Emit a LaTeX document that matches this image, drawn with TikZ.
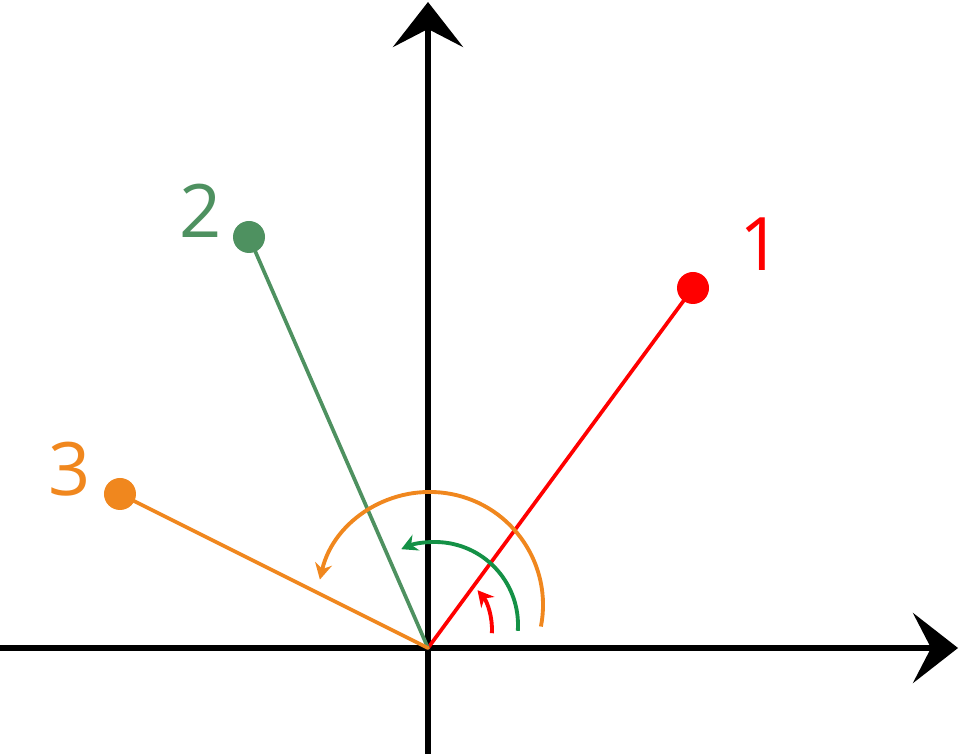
\documentclass[tikz,border=0pt]{standalone}
\usepackage{fontspec}
\setmainfont{Open Sans}
\usepackage{tkz-euclide}
\usepackage{tikz}
\usetikzlibrary{arrows.meta}

\definecolor{cred}{RGB}{255,0,0}
\definecolor{cgreen}{RGB}{78,145,96}
\definecolor{carc}{RGB}{20,145,70}
\definecolor{corange}{RGB}{240,135,30}

\tikzset{
  axis/.style={line width=1.7pt, -{Stealth[length=4.5mm, width=7mm, inset=1.8mm]}},
  ray/.style={line width=1.05pt},
  turn/.style={line width=1.1pt, -{Stealth[length=1.6mm, width=1.7mm]}},
  num/.style={font=\fontsize{21}{24}\selectfont}
}

\begin{document}
\begin{tikzpicture}
    \useasboundingbox (-4.28,-1.06) rectangle (5.31,6.48);
    \tkzDefPoints{0/0/O,2.65/3.60/A,-1.79/4.11/B,-3.08/1.54/C}
    \tkzDefPoints{-4.28/0/XL,5.30/0/XR,0/-1.06/YB,0/6.46/YT}
    % axes
    \draw[axis] (XL) -- (XR);
    \draw[axis] (YB) -- (YT);
    % rays
    \tkzDrawSegments[ray, color=cred](O,A)
    \tkzDrawSegments[ray, color=cgreen](O,B)
    \tkzDrawSegments[ray, color=corange](O,C)
    \fill[cred] (A) circle (0.16);
    \fill[cgreen] (B) circle (0.16);
    \fill[corange] (C) circle (0.16);
    % angles
    \draw[turn, color=cred] (0.02,0.18) ++(-3:0.62) arc (-3:40:0.62);
    \draw[turn, color=carc] (0.07,0.23) ++(-4:0.83) arc (-4:114:0.83);
    \draw[turn, color=corange] (0.02,0.43) ++(-11:1.13) arc (-11:167:1.13);
    % labels
    \node[num, text=cred] (lA) at (3.33,4.04) {1};
    \node[num, text=cgreen] (lB) at (-2.27,4.37) {2};
    \node[num, text=corange] (lC) at (-3.58,1.79) {3};
\end{tikzpicture}
\end{document}
